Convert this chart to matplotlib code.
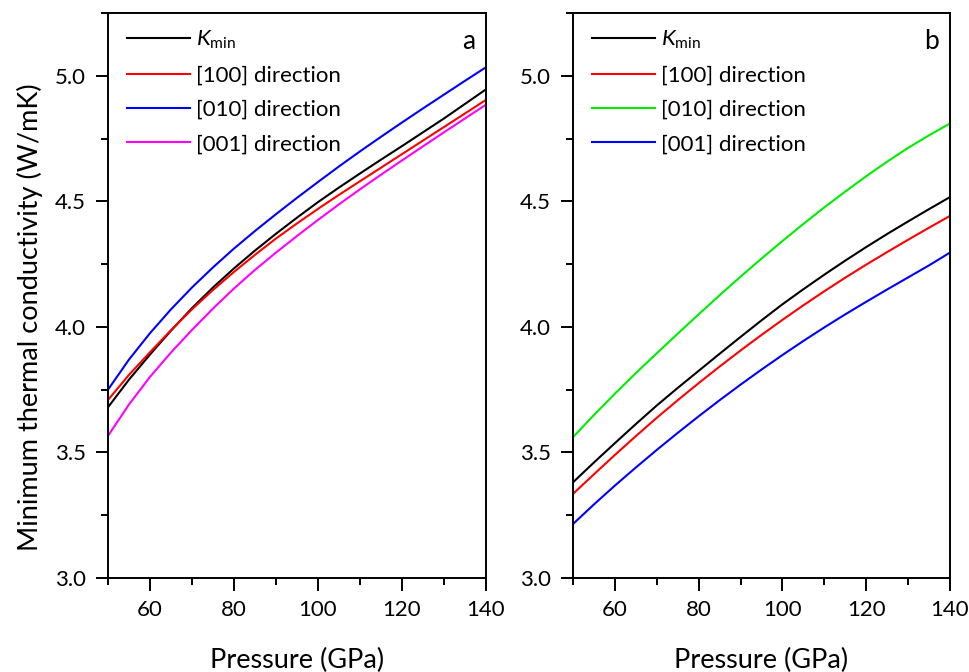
import matplotlib
matplotlib.use("Agg")
import matplotlib.pyplot as plt
from matplotlib.ticker import MultipleLocator, FormatStrFormatter

plt.rcParams['font.family'] = ['Lato', 'DejaVu Sans']
plt.rcParams['mathtext.fontset'] = 'custom'
plt.rcParams['mathtext.rm'] = 'Lato'
plt.rcParams['mathtext.it'] = 'Lato:italic'

pressure = [50, 55, 60, 65, 70, 75, 80, 85, 90, 95, 100,
            105, 110, 115, 120, 125, 130, 135, 140]

# Panel a
a_kmin = [3.68, 3.79, 3.89, 3.985, 4.075, 4.157, 4.233, 4.304, 4.371, 4.435, 4.497,
          4.555, 4.611, 4.666, 4.72, 4.775, 4.83, 4.888, 4.946]
a_100 = [3.709, 3.809, 3.899, 3.987, 4.07, 4.147, 4.219, 4.287, 4.352, 4.412, 4.47,
         4.526, 4.58, 4.634, 4.688, 4.742, 4.796, 4.85, 4.904]
a_010 = [3.75, 3.87, 3.975, 4.07, 4.157, 4.237, 4.312, 4.382, 4.449, 4.514, 4.577,
         4.639, 4.699, 4.757, 4.814, 4.87, 4.925, 4.98, 5.034]
a_001 = [3.566, 3.691, 3.801, 3.898, 3.988, 4.073, 4.153, 4.227, 4.296, 4.362, 4.426,
         4.488, 4.548, 4.606, 4.663, 4.719, 4.775, 4.83, 4.885]

# Panel b
b_kmin = [3.381, 3.46, 3.537, 3.613, 3.687, 3.757, 3.825, 3.893, 3.96, 4.026, 4.09,
          4.15, 4.208, 4.264, 4.318, 4.37, 4.42, 4.469, 4.517]
b_100 = [3.335, 3.413, 3.49, 3.565, 3.638, 3.708, 3.776, 3.842, 3.906, 3.968, 4.028,
         4.086, 4.142, 4.196, 4.248, 4.298, 4.347, 4.395, 4.442]
b_010 = [3.561, 3.649, 3.734, 3.816, 3.895, 3.973, 4.05, 4.126, 4.2, 4.272, 4.342,
         4.41, 4.476, 4.539, 4.6, 4.658, 4.713, 4.763, 4.81]
b_001 = [3.215, 3.293, 3.368, 3.44, 3.51, 3.578, 3.644, 3.708, 3.77, 3.83, 3.888,
         3.944, 3.998, 4.05, 4.1, 4.149, 4.197, 4.245, 4.296]

labels = [r'$K_{\mathrm{min}}$', '[100] direction', '[010] direction', '[001] direction']

fig = plt.figure(figsize=(9.7, 6.72), dpi=100)
axa = fig.add_axes([108/970, 1-578/672, 378/970, 565/672])
axb = fig.add_axes([573/970, 1-578/672, 377/970, 565/672])

panels = [
    (axa, [a_kmin, a_100, a_010, a_001], ['black', '#ff0000', '#0000ff', '#ff00ff'], 'a'),
    (axb, [b_kmin, b_100, b_010, b_001], ['black', '#ff0000', '#00ee00', '#0000ff'], 'b'),
]

for ax, series, colors, letter in panels:
    for ys, c, lab in zip(series, colors, labels):
        ax.plot(pressure, ys, color=c, lw=1.5, label=lab)
    ax.set_xlim(50, 140)
    ax.set_ylim(3.0, 5.25)
    ax.xaxis.set_minor_locator(MultipleLocator(10))
    ax.set_xticks([60, 80, 100, 120, 140])
    ax.yaxis.set_major_locator(MultipleLocator(0.5))
    ax.yaxis.set_minor_locator(MultipleLocator(0.25))
    ax.yaxis.set_major_formatter(FormatStrFormatter('%.1f'))
    ax.tick_params(which='major', direction='out', length=9, width=1.4, labelsize=16, pad=7)
    ax.tick_params(which='minor', direction='out', length=5, width=1.4)
    for s in ax.spines.values():
        s.set_linewidth(1.4)
    ax.set_xlabel('Pressure (GPa)', fontsize=19.5, labelpad=20)
    ax.legend(loc='upper left', frameon=False, fontsize=16, handlelength=2.8,
              handletextpad=0.3, labelspacing=0.65, borderaxespad=0.3,
              bbox_to_anchor=(0.01, 1.0))
    ax.text(0.971, 0.95, letter, transform=ax.transAxes, ha='right', va='center', fontsize=19)

axa.set_ylabel('Minimum thermal conductivity (W/mK)', fontsize=19.5)
axa.yaxis.set_label_coords(-0.172, 0.462)

fig.savefig('out.png', dpi=100)
